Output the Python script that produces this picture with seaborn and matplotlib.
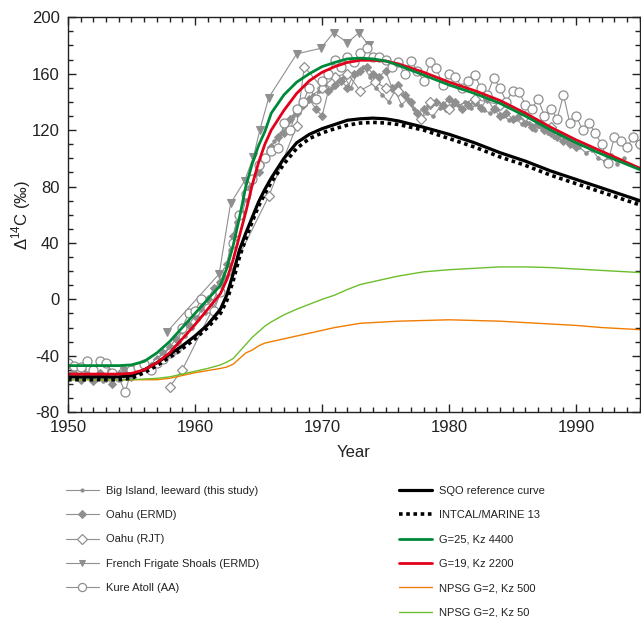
import matplotlib
matplotlib.use("Agg")
import matplotlib.pyplot as plt
from matplotlib.ticker import MultipleLocator
import seaborn as sns
import pandas as pd

# --------------------------------------------------------------------
# coral records
kure_year = [1950 + 0.5 * i for i in range(91)]
kure_d14c = [-45, -47, -48, -44, -50, -44, -45, -52, -55, -66,
             -50, -48, -46, -50, -45, -42, -38, -35, -20, -10,
             -8, 0, -6, -8, 5, 20, 40, 60, 75, 85,
             95, 100, 105, 107, 125, 120, 135, 140, 150, 142,
             155, 160, 170, 165, 172, 168, 175, 178, 172, 172,
             170, 165, 168, 160, 169, 162, 155, 168, 164, 152,
             160, 158, 150, 155, 159, 150, 145, 157, 150, 140,
             148, 147, 138, 135, 142, 130, 135, 128, 145, 125,
             130, 120, 125, 118, 110, 97, 115, 112, 108, 115,
             110]

big_island_year = [1950.25 + 0.5 * i for i in range(88)]
big_island_d14c = [-52, -55, -50, -56, -53, -58, -50, -55, -48, -54,
                   -52, -49, -50, -46, -44, -40, -36, -30, -26, -20,
                   -14, -10, -4, 5, 15, 35, 55, 62, 80, 88,
                   95, 105, 112, 118, 125, 130, 135, 140, 145, 148,
                   152, 150, 155, 158, 150, 160, 165, 158, 150, 145,
                   140, 148, 138, 142, 135, 128, 132, 130, 136, 134,
                   138, 137, 140, 136, 138, 134, 132, 135, 130, 127,
                   128, 124, 125, 120, 122, 118, 115, 118, 112, 110,
                   108, 104, 106, 100, 98, 102, 96, 100]

oahu_ermd_year = [1950 + 0.5 * i for i in range(81)]
oahu_ermd_d14c = [-55, -52, -57, -54, -58, -52, -56, -60, -53, -50,
                  -55, -50, -48, -47, -42, -38, -34, -28, -22, -18,
                  -12, -6, 0, 8, 12, 25, 45, 60, 72, 84,
                  90, 100, 108, 115, 118, 128, 132, 138, 142, 135,
                  130, 148, 152, 155, 150, 160, 162, 165, 160, 158,
                  162, 150, 152, 145, 140, 132, 135, 138, 140, 138,
                  142, 140, 135, 138, 140, 136, 142, 135, 130, 132,
                  128, 130, 125, 122, 124, 120, 118, 115, 112, 110,
                  108]

oahu_rjt_year = [1958, 1959, 1965.8, 1968, 1968.6, 1970, 1971, 1972,
                 1973, 1974.2, 1975, 1976, 1977.8, 1978.5, 1980, 1982,
                 1984, 1986, 1988]
oahu_rjt_d14c = [-62, -50, 73, 123, 165, 150, 158, 160,
                 148, 154, 150, 148, 128, 140, 135, 142,
                 138, 130, 122]

ffs_year = [1957.8, 1961.9, 1962.8, 1963.9, 1964.6, 1965.1, 1965.8,
            1968, 1969.9, 1970.9, 1972, 1972.9, 1973.7]
ffs_d14c = [-23, 18, 68, 84, 101, 120, 143,
            174, 178, 189, 182, 189, 180]

# model curves
model_year = [1950, 1952, 1954, 1955, 1956, 1957, 1958, 1959, 1960, 1961,
              1962, 1962.5, 1963, 1963.5, 1964, 1964.5, 1965, 1965.5, 1966,
              1967, 1968, 1969, 1970, 1971, 1972, 1973, 1974, 1975, 1976,
              1978, 1980, 1982, 1984, 1986, 1988, 1990, 1992, 1995]
sqo = [-55, -55, -55, -54, -50, -45, -39, -33, -26, -18,
       -7, 3, 18, 35, 47, 58, 69, 78, 86,
       100, 111, 117, 121, 124, 127, 128, 128.5, 128, 126.5,
       122, 117, 111, 104, 98, 91, 85, 79, 70]
intcal = [-57, -57, -57, -56, -52, -47, -41, -35, -28, -20,
          -10, -1, 13, 30, 43, 55, 66, 75, 83,
          96, 107, 114, 118, 121, 123.5, 125, 125.5, 125, 124,
          120, 114, 108, 101, 95, 88, 82, 76, 67]
g25 = [-47, -47, -47, -46.5, -44, -38, -30, -20, -10, 0,
       10, 22, 38, 58, 80, 96, 109, 119, 132,
       145, 154, 160, 165, 168, 170.5, 171, 170.5, 169, 166,
       159, 152, 146, 139, 130, 120, 111, 103, 92]
g19 = [-53, -53, -53, -52.5, -50, -45, -38, -28, -18, -7,
       4, 14, 28, 45, 62, 81, 97, 110, 120,
       134, 146, 155, 161, 165, 168, 169.5, 169.5, 169, 167,
       161, 154, 148, 141, 132, 122, 113, 105, 93]
npsg500 = [-57, -57, -57, -57, -57, -57, -56, -54, -52, -50.5,
           -49, -48, -46, -42, -38, -36, -33, -31, -30,
           -28, -26, -24, -22, -20, -18.5, -17, -16.5, -16, -15.5,
           -15, -14.5, -15, -15.5, -16.5, -17.5, -18.5, -20, -21.5]
npsg50 = [-57, -57, -57, -57, -56.5, -56, -55, -53, -51, -49,
          -46.5, -44.5, -42, -37, -32, -27, -23, -19, -16,
          -11, -7, -3.5, 0, 3, 7, 10.5, 12.5, 14.5, 16.5,
          19.5, 21, 22, 23, 23, 22.5, 21.5, 20.5, 19]
# --------------------------------------------------------------------

sns.set_theme(style="ticks")
plt.rcParams["font.family"] = ["Liberation Sans", "DejaVu Sans"]
plt.rcParams["mathtext.fontset"] = "custom"
plt.rcParams["mathtext.rm"] = "Liberation Sans"
plt.rcParams["axes.unicode_minus"] = False

GRAY = "#8f8f8f"
INK = "#222222"

fig = plt.figure(figsize=(6.41, 6.17), dpi=100)
ax = fig.add_axes([0.106, 0.332, 0.892, 0.640])

# coral data
sns.lineplot(x=big_island_year, y=big_island_d14c, ax=ax, color=GRAY, lw=0.8,
             marker="o", markersize=2.5, markeredgecolor=GRAY, markerfacecolor=GRAY,
             label="Big Island, leeward (this study)", sort=False)
sns.lineplot(x=oahu_ermd_year, y=oahu_ermd_d14c, ax=ax, color=GRAY, lw=0.8,
             marker="D", markersize=4.5, markeredgecolor=GRAY, markerfacecolor=GRAY,
             label="Oahu (ERMD)", sort=False)
sns.lineplot(x=oahu_rjt_year, y=oahu_rjt_d14c, ax=ax, color=GRAY, lw=0.8,
             marker="D", markersize=5.5, markeredgecolor=GRAY, markerfacecolor="white",
             markeredgewidth=0.9, label="Oahu (RJT)", sort=False)
sns.lineplot(x=ffs_year, y=ffs_d14c, ax=ax, color=GRAY, lw=0.8,
             marker="v", markersize=5.5, markeredgecolor=GRAY, markerfacecolor=GRAY,
             label="French Frigate Shoals (ERMD)", sort=False)
sns.lineplot(x=kure_year, y=kure_d14c, ax=ax, color=GRAY, lw=0.8,
             marker="o", markersize=6.5, markeredgecolor=GRAY, markerfacecolor="white",
             markeredgewidth=0.9, label="Kure Atoll (AA)", sort=False)

# model curves
sns.lineplot(x=model_year, y=npsg500, ax=ax, color="#f07d00", lw=1.0,
             label="NPSG G=2, Kz 500")
sns.lineplot(x=model_year, y=npsg50, ax=ax, color="#6cbf2c", lw=1.0,
             label="NPSG G=2, Kz 50")
sns.lineplot(x=model_year, y=sqo, ax=ax, color="black", lw=2.3,
             label="SQO reference curve")
sns.lineplot(x=model_year, y=intcal, ax=ax, color="black", lw=2.6,
             linestyle=(0, (1, 1)), label="INTCAL/MARINE 13")
sns.lineplot(x=model_year, y=g19, ax=ax, color="#e3001b", lw=2.0,
             label="G=19, Kz 2200")
sns.lineplot(x=model_year, y=g25, ax=ax, color="#00883a", lw=2.0,
             label="G=25, Kz 4400")

ax.set_xlim(1950, 1995)
ax.set_ylim(-80, 200)
ax.xaxis.set_major_locator(MultipleLocator(10))
ax.xaxis.set_minor_locator(MultipleLocator(1))
ax.yaxis.set_major_locator(MultipleLocator(40))
ax.yaxis.set_minor_locator(MultipleLocator(10))
ax.tick_params(which="both", direction="in", top=True, right=True,
               color=INK, width=1.0, labelsize=12, labelcolor=INK)
ax.tick_params(which="major", length=6, pad=6)
ax.tick_params(which="minor", length=3.5)
for sp in ax.spines.values():
    sp.set_linewidth(1.0)
    sp.set_color(INK)
ax.set_xlabel("Year", fontsize=12, color=INK, labelpad=7)
ax.set_ylabel("Δ$^{14}$C (‰)", fontsize=12, color=INK, labelpad=-1)

# two-column legend below the axes
handles, labels = ax.get_legend_handles_labels()
lut = dict(zip(labels, handles))
ax.get_legend().remove()
left_names = ["Big Island, leeward (this study)", "Oahu (ERMD)", "Oahu (RJT)",
              "French Frigate Shoals (ERMD)", "Kure Atoll (AA)"]
right_names = ["SQO reference curve", "INTCAL/MARINE 13", "G=25, Kz 4400",
               "G=19, Kz 2200", "NPSG G=2, Kz 500", "NPSG G=2, Kz 50"]
legend_kw = dict(frameon=False, fontsize=8, handlelength=3.0,
                 handletextpad=0.6, labelspacing=1.3, borderpad=0,
                 markerscale=0.9, loc="upper left", labelcolor=INK)
fig.legend([lut[n] for n in left_names], left_names,
           bbox_to_anchor=(60 / 641, 1 - 480 / 617), **legend_kw)
fig.legend([lut[n] for n in right_names], right_names,
           bbox_to_anchor=(393 / 641, 1 - 480 / 617), **legend_kw)

fig.savefig("out.png", dpi=100)
